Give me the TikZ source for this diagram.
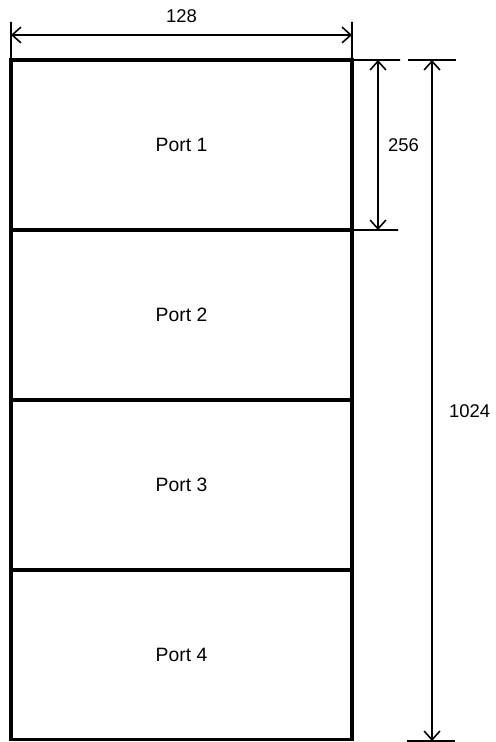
\documentclass[tikz,border=0pt]{standalone}
\usepackage{fontspec}
\setmainfont{Liberation Sans}
\usetikzlibrary{arrows.meta,positioning}

\tikzset{
  port/.style={draw, line width=1.8pt, minimum width=6.82cm, minimum height=3.4cm,
    inner sep=0pt, outer sep=0pt},
  dimline/.style={line width=0.9pt},
  dimlabel/.style={font=\fontsize{10.5}{12}\selectfont}
}

\begin{document}
\begin{tikzpicture}[x=0.02cm, y=-0.02cm, >={Straight Barb[length=5pt, width=9pt, line width=0.9pt]},
  font=\fontsize{11}{13}\selectfont]
\useasboundingbox (0,0) rectangle (495,742);

% ---- The four ports, stacked ----
\node[port] (p1) at (181.5,145) {Port 1};
\foreach \i [count=\j from 1] in {2,3,4}
  \node[port, below=0pt of p\j] (p\i) {Port \i};

% ---- Width: 128 ----
\coordinate (wl) at (11,22);
\coordinate (wr) at (352,22);
\draw[dimline] (wl) -- (p1.north west);
\draw[dimline] (wr) -- (p1.north east);
\draw[dimline, <->] ([yshift=-13*0.02cm]wl) -- ([yshift=-13*0.02cm]wr)
  node[midway, above=3pt, dimlabel] {128};

% ---- One port: 256 ----
\coordinate (a1) at (400,60);
\coordinate (a2) at (398,230);
\draw[dimline] (p1.north east) -- (a1);
\draw[dimline] (p1.south east) -- (a2);
\coordinate (d1) at (378,60);
\coordinate (d2) at (378,230);
\draw[dimline, <->] (d1) -- (d2)
  node[midway, right=2pt, dimlabel] {256};

% ---- All ports: 1024 ----
\coordinate (t1) at (408,60);
\coordinate (t2) at (456,60);
\coordinate (b1) at (407,741);
\coordinate (b2) at (455,741);
\draw[dimline] (t1) -- (t2);
\draw[dimline] (b1) -- (b2);
\coordinate (e1) at (432,60);
\coordinate (e2) at (432,741);
\draw[dimline, <->] (e1) -- (e2)
  node[pos=0.515, right=6pt, dimlabel] {1024};

\end{tikzpicture}
\end{document}
